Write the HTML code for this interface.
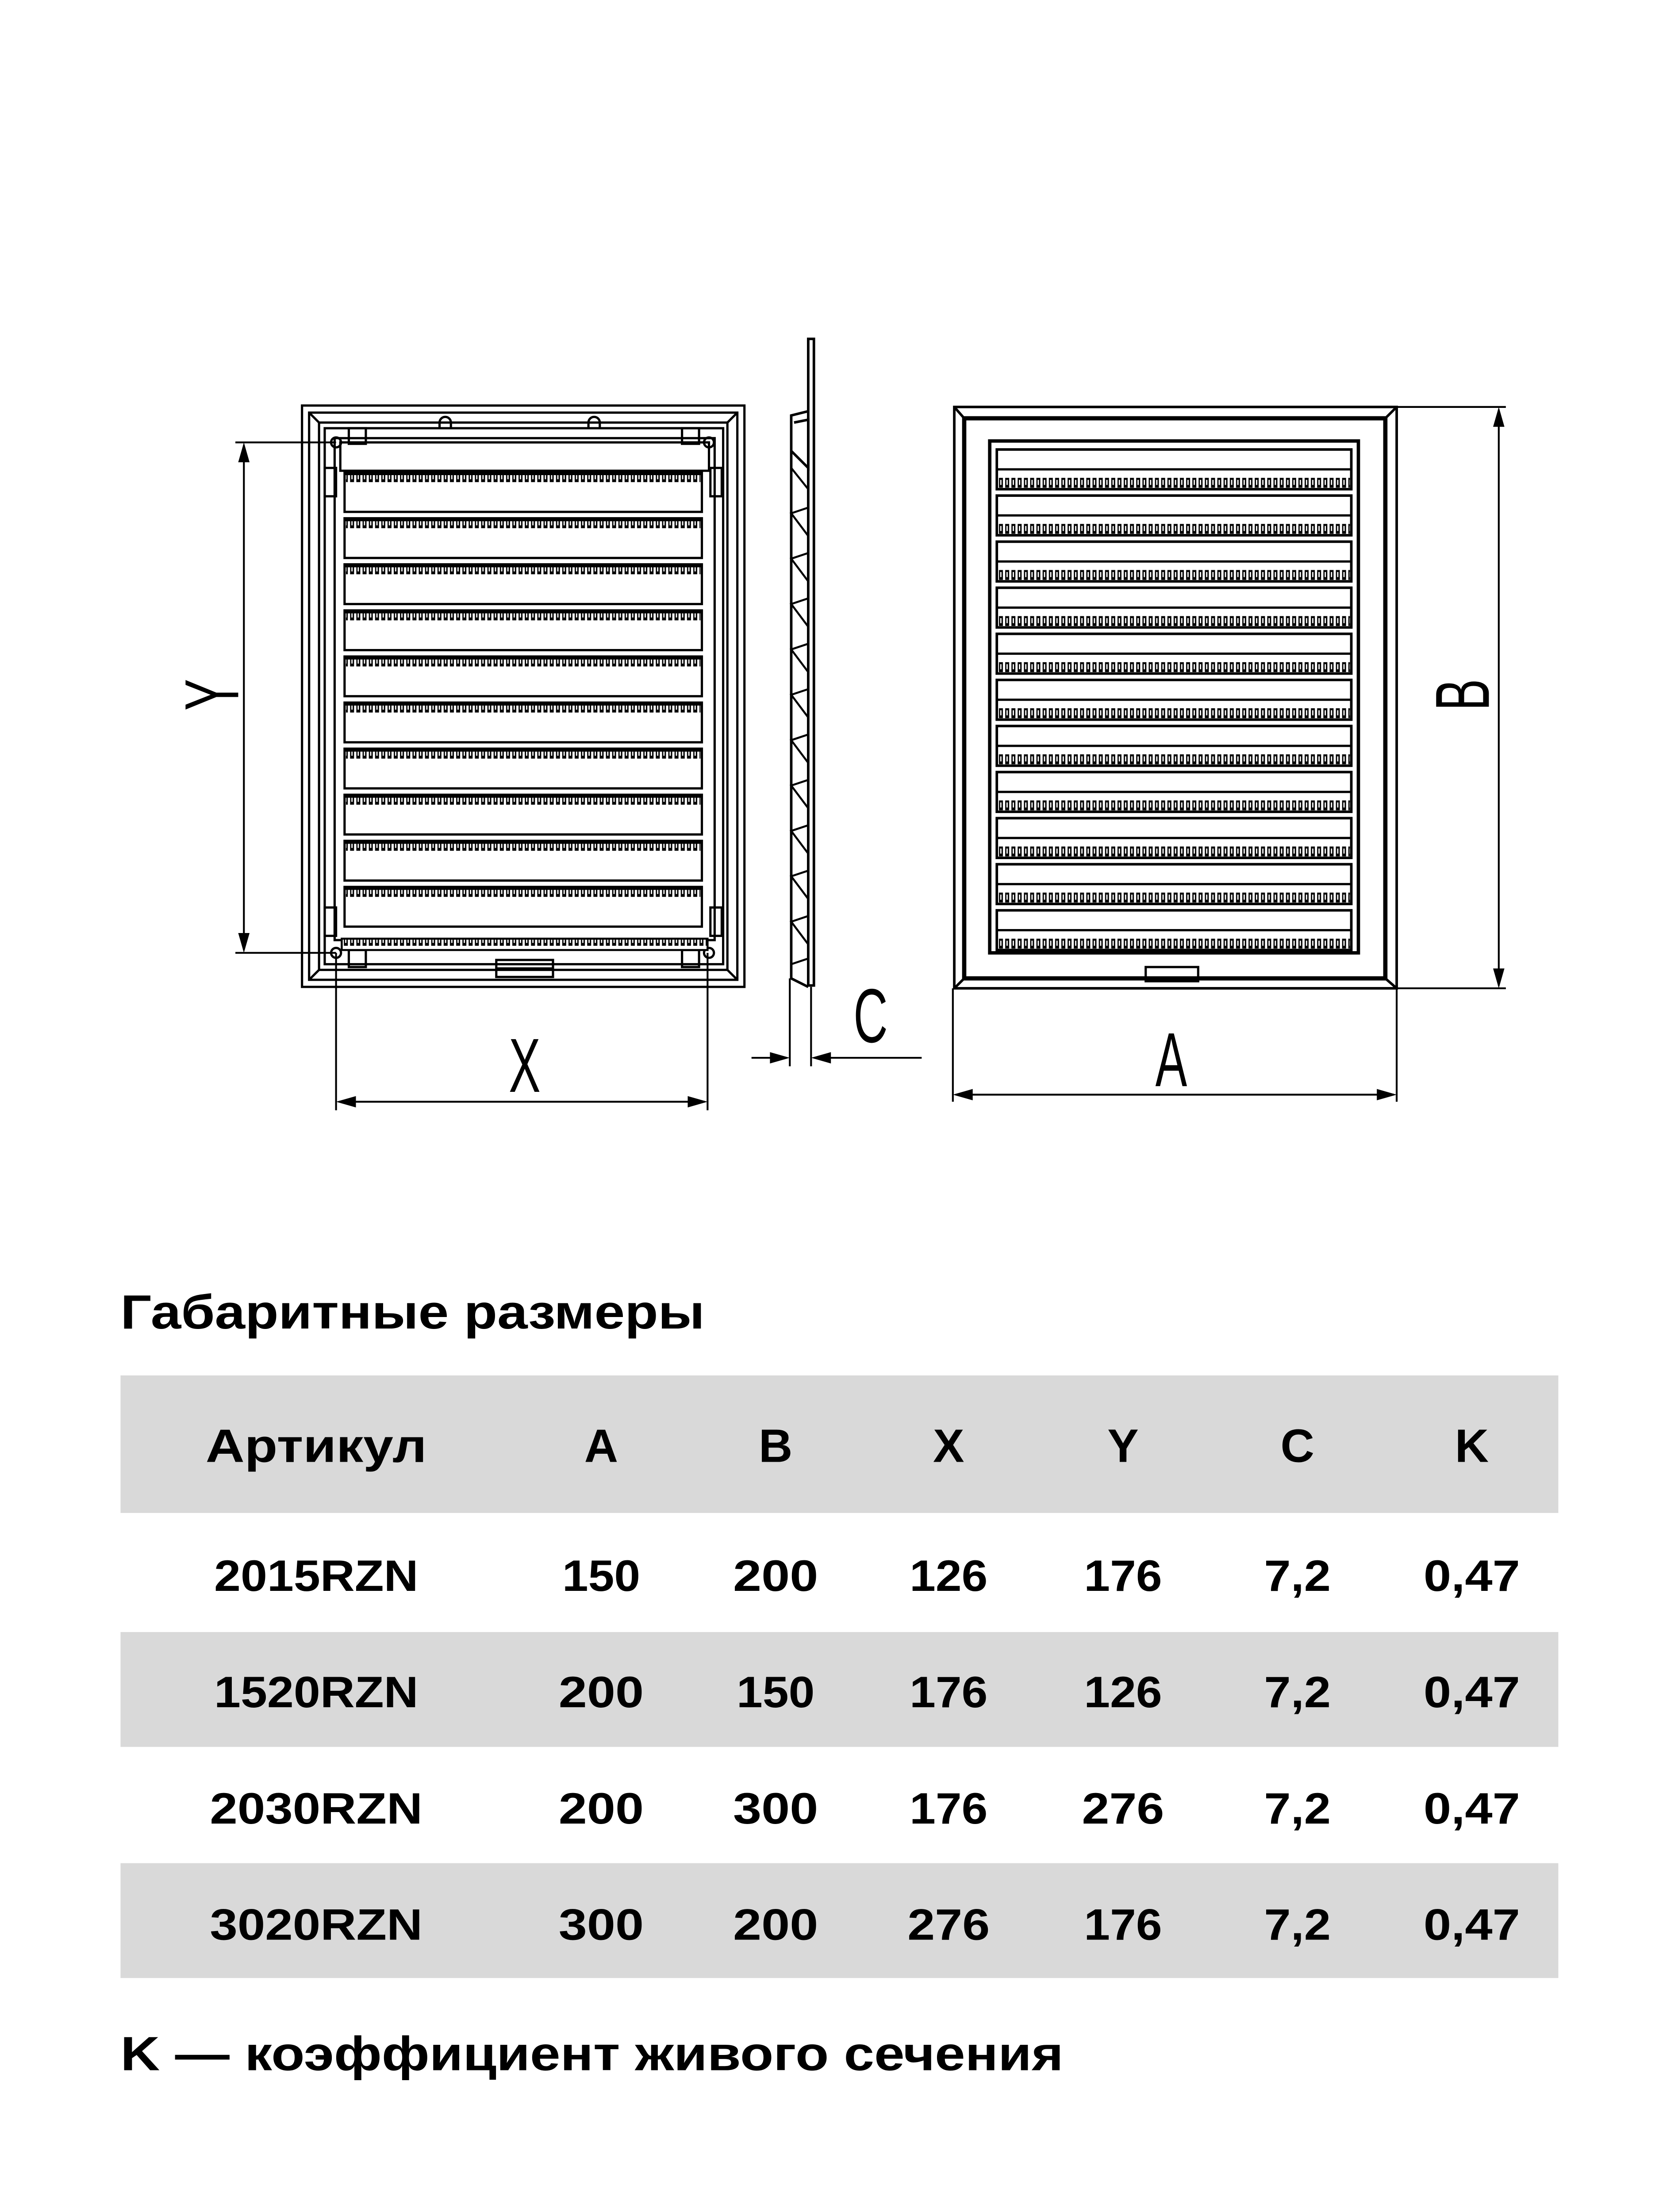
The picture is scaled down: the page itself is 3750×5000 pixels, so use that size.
<!DOCTYPE html>
<html><head><meta charset="utf-8"><style>
html,body{margin:0;padding:0;background:#fff;}
svg{display:block;}
</style></head><body>
<svg width="3750" height="5000" viewBox="0 0 1170 1560" xmlns="http://www.w3.org/2000/svg">
<defs>
<pattern id="t" width="4.4" height="10" patternUnits="userSpaceOnUse">
<rect x="0" y="0" width="4.4" height="10" fill="#fff"/>
<rect x="0.5" y="0" width="2.8" height="7" fill="#000"/>
<rect x="1.4" y="1.4" width="0.9" height="3.6" fill="#fff"/>
</pattern>
<g id="lv">
<rect x="243" y="0" width="252" height="28" fill="#fff" stroke="#000" stroke-width="1.6"/>
<rect x="244" y="1" width="250" height="8" fill="url(#t)"/>
<line x1="243" y1="1" x2="495" y2="1" stroke="#000" stroke-width="2.2"/>
</g>
<g id="rv">
<rect x="703" y="0" width="250" height="28" fill="#fff" stroke="#000" stroke-width="1.8"/>
<line x1="703" y1="14" x2="953" y2="14" stroke="#000" stroke-width="1.6"/>
<rect x="704" y="19" width="248" height="8" fill="url(#t)"/>
</g>
</defs>
<g fill="none" stroke="#000" stroke-width="1.6">
<rect x="213" y="286" width="312" height="410"/>
<rect x="218" y="291" width="302" height="400"/>
<line x1="218" y1="291" x2="225" y2="298"/><line x1="520" y1="291" x2="513" y2="298"/>
<line x1="218" y1="691" x2="225" y2="684"/><line x1="520" y1="691" x2="513" y2="684"/>
<rect x="225" y="298" width="288" height="386"/>
<rect x="229" y="302" width="281" height="378"/>
<rect x="236" y="309" width="268" height="354"/>
<rect x="240" y="312" width="260" height="20"/>
<rect x="246" y="302" width="12" height="11"/><rect x="481" y="302" width="12" height="11"/>
<path d="M310 302 v-4 a4 4 0 0 1 8 0 v4"/><path d="M415 302 v-4 a4 4 0 0 1 8 0 v4"/>
<rect x="229" y="330" width="8" height="20"/><rect x="501" y="330" width="8" height="20"/>
<rect x="229" y="640" width="8" height="20"/><rect x="501" y="640" width="8" height="20"/>
<rect x="246" y="670" width="12" height="12"/><rect x="481" y="670" width="12" height="12"/>
<rect x="350" y="677" width="40" height="12"/>
<line x1="350" y1="683" x2="390" y2="683"/>
<circle cx="237" cy="312" r="3.5"/><circle cx="500" cy="312" r="3.5"/>
<circle cx="237" cy="672" r="3.5"/><circle cx="500" cy="672" r="3.5"/>
</g>
<use href="#lv" y="333"/><use href="#lv" y="365.5"/><use href="#lv" y="398"/><use href="#lv" y="430.5"/><use href="#lv" y="463"/><use href="#lv" y="495.5"/><use href="#lv" y="528"/><use href="#lv" y="560.5"/><use href="#lv" y="593"/><use href="#lv" y="625.5"/>
<rect x="241" y="662" width="258" height="8" fill="url(#t)" stroke="#000" stroke-width="1.4"/>

<g fill="none" stroke="#000" stroke-width="1.8">
<rect x="570" y="239" width="4" height="456"/>
<polyline points="570,290 558,293 558,690 570,696"/>
<polyline points="560,298 570,296 570,330 558,318"/>
<g stroke-width="1.4">
<polyline points="558,330 570,345 570,358 558,362 570,378 570,390 558,394 570,410 570,422 558,426 570,442 570,454 558,458 570,474 570,486 558,490 570,506 570,518 558,522 570,538 570,550 558,554 570,570 570,582 558,586 570,602 570,614 558,618 570,634 570,646 558,650 570,666 570,676 558,680"/>
</g>
</g>

<g fill="none" stroke="#000" stroke-width="1.8">
<rect x="673" y="287" width="312" height="410"/>
<rect x="680" y="295" width="297" height="395" stroke-width="3"/>
<line x1="673" y1="287" x2="680" y2="295"/><line x1="985" y1="287" x2="977" y2="295"/>
<line x1="673" y1="697" x2="680" y2="690"/><line x1="985" y1="697" x2="977" y2="690"/>
<rect x="698" y="311" width="260" height="361" stroke-width="2.4"/>
<rect x="808" y="682" width="37" height="10" stroke-width="1.6"/>
</g>
<use href="#rv" y="317"/><use href="#rv" y="349.5"/><use href="#rv" y="382"/><use href="#rv" y="414.5"/><use href="#rv" y="447"/><use href="#rv" y="479.5"/><use href="#rv" y="512"/><use href="#rv" y="544.5"/><use href="#rv" y="577"/><use href="#rv" y="609.5"/><use href="#rv" y="642"/>

<g stroke="#000" stroke-width="1.3" fill="none">
<line x1="166" y1="312" x2="237" y2="312"/><line x1="166" y1="672" x2="237" y2="672"/>
<line x1="172" y1="314" x2="172" y2="670"/>
<line x1="237" y1="672" x2="237" y2="783"/><line x1="499" y1="672" x2="499" y2="783"/>
<line x1="239" y1="777" x2="497" y2="777"/>
<line x1="557" y1="690" x2="557" y2="752"/><line x1="572" y1="696" x2="572" y2="752"/>
<line x1="530" y1="746" x2="555" y2="746"/><line x1="574" y1="746" x2="650" y2="746"/>
<line x1="672" y1="697" x2="672" y2="777"/><line x1="985" y1="697" x2="985" y2="777"/>
<line x1="674" y1="772" x2="983" y2="772"/>
<line x1="985" y1="287" x2="1062" y2="287"/><line x1="985" y1="697" x2="1062" y2="697"/>
<line x1="1057" y1="289" x2="1057" y2="695"/>
</g>
<g fill="#000">
<polygon points="172,312 168,326 176,326"/><polygon points="172,672 168,658 176,658"/>
<polygon points="237,777 251,773 251,781"/><polygon points="499,777 485,773 485,781"/>
<polygon points="557,746 543,742 543,750"/><polygon points="572,746 586,742 586,750"/>
<polygon points="672,772 686,768 686,776"/><polygon points="985,772 971,768 971,776"/>
<polygon points="1057,287 1053,301 1061,301"/><polygon points="1057,697 1053,683 1061,683"/>
</g>
<g font-family="Liberation Sans, sans-serif" font-size="54" fill="#000">
<text transform="translate(370,770) scale(0.62,1)" text-anchor="middle">X</text>
<text transform="translate(614,735) scale(0.62,1)" text-anchor="middle">C</text>
<text transform="translate(826,766) scale(0.62,1)" text-anchor="middle">A</text>
<text transform="translate(168,490) rotate(-90) scale(0.62,1)" text-anchor="middle">Y</text>
<text transform="translate(1050,490) rotate(-90) scale(0.62,1)" text-anchor="middle">B</text>
</g>

<rect x="85" y="970" width="1014" height="97" fill="#d9d9d9"/>
<rect x="85" y="1151" width="1014" height="81" fill="#d9d9d9"/>
<rect x="85" y="1314" width="1014" height="81" fill="#d9d9d9"/>
<g font-family="Liberation Sans, 'DejaVu Sans', sans-serif" font-weight="bold" fill="#000">
<text x="85" y="937" font-size="34" textLength="412" lengthAdjust="spacingAndGlyphs">Габаритные размеры</text>
<g font-size="33" text-anchor="middle">
<text x="223" y="1031" textLength="156" lengthAdjust="spacingAndGlyphs">Артикул</text><text x="424" y="1031">A</text><text x="547" y="1031">B</text><text x="669" y="1031">X</text><text x="792" y="1031">Y</text><text x="915" y="1031">C</text><text x="1038" y="1031">K</text>
</g>
<g font-size="31" text-anchor="middle" lengthAdjust="spacingAndGlyphs">
<text x="223" y="1122" textLength="144" lengthAdjust="spacingAndGlyphs">2015RZN</text><text x="424" y="1122" textLength="55" lengthAdjust="spacingAndGlyphs">150</text><text x="547" y="1122" textLength="60" lengthAdjust="spacingAndGlyphs">200</text><text x="669" y="1122" textLength="55" lengthAdjust="spacingAndGlyphs">126</text><text x="792" y="1122" textLength="55" lengthAdjust="spacingAndGlyphs">176</text><text x="915" y="1122" textLength="47" lengthAdjust="spacingAndGlyphs">7,2</text><text x="1038" y="1122" textLength="68" lengthAdjust="spacingAndGlyphs">0,47</text>
<text x="223" y="1204" textLength="144" lengthAdjust="spacingAndGlyphs">1520RZN</text><text x="424" y="1204" textLength="60" lengthAdjust="spacingAndGlyphs">200</text><text x="547" y="1204" textLength="55" lengthAdjust="spacingAndGlyphs">150</text><text x="669" y="1204" textLength="55" lengthAdjust="spacingAndGlyphs">176</text><text x="792" y="1204" textLength="55" lengthAdjust="spacingAndGlyphs">126</text><text x="915" y="1204" textLength="47" lengthAdjust="spacingAndGlyphs">7,2</text><text x="1038" y="1204" textLength="68" lengthAdjust="spacingAndGlyphs">0,47</text>
<text x="223" y="1286" textLength="150" lengthAdjust="spacingAndGlyphs">2030RZN</text><text x="424" y="1286" textLength="60" lengthAdjust="spacingAndGlyphs">200</text><text x="547" y="1286" textLength="60" lengthAdjust="spacingAndGlyphs">300</text><text x="669" y="1286" textLength="55" lengthAdjust="spacingAndGlyphs">176</text><text x="792" y="1286" textLength="58" lengthAdjust="spacingAndGlyphs">276</text><text x="915" y="1286" textLength="47" lengthAdjust="spacingAndGlyphs">7,2</text><text x="1038" y="1286" textLength="68" lengthAdjust="spacingAndGlyphs">0,47</text>
<text x="223" y="1368" textLength="150" lengthAdjust="spacingAndGlyphs">3020RZN</text><text x="424" y="1368" textLength="60" lengthAdjust="spacingAndGlyphs">300</text><text x="547" y="1368" textLength="60" lengthAdjust="spacingAndGlyphs">200</text><text x="669" y="1368" textLength="58" lengthAdjust="spacingAndGlyphs">276</text><text x="792" y="1368" textLength="55" lengthAdjust="spacingAndGlyphs">176</text><text x="915" y="1368" textLength="47" lengthAdjust="spacingAndGlyphs">7,2</text><text x="1038" y="1368" textLength="68" lengthAdjust="spacingAndGlyphs">0,47</text>
</g>
<text x="85" y="1460" font-size="34" textLength="665" lengthAdjust="spacingAndGlyphs">K — коэффициент живого сечения</text>
</g>
</svg>
</body></html>
